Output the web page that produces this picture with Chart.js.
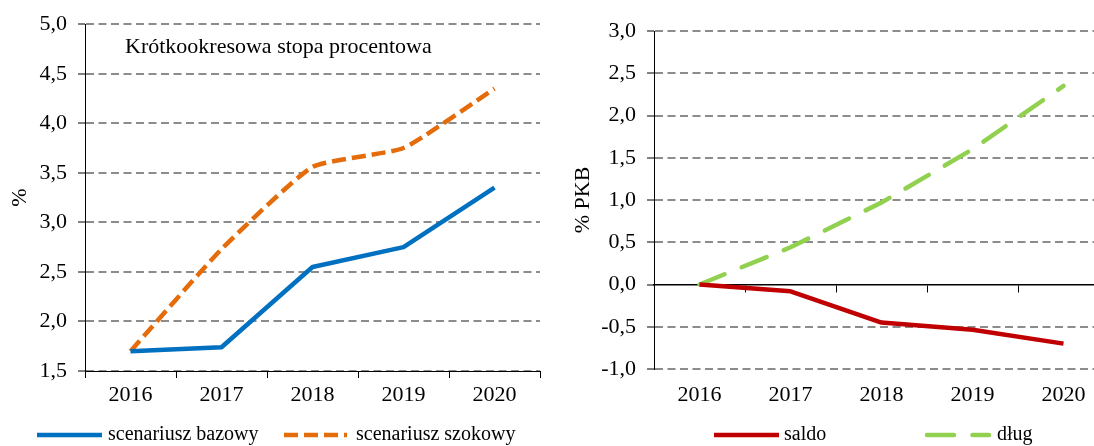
<!DOCTYPE html>
<html><head><meta charset="utf-8">
<script src="https://cdn.jsdelivr.net/npm/chart.js@4.4.1/dist/chart.umd.min.js"></script>
<style>
html,body{margin:0;padding:0;background:#fff;overflow:hidden;width:1094px;height:446px;position:relative}
#c1{position:absolute;left:0;top:0}
#c2{position:absolute;left:547px;top:0}
</style></head><body>
<canvas id="c1" width="547" height="446"></canvas>
<canvas id="c2" width="568" height="446"></canvas>
<script>
// ---- data ----
const years = ['2016', '2017', '2018', '2019', '2020'];
const bazowy = [1.70, 1.74, 2.55, 2.75, 3.35];
const szokowy = [1.70, 2.73, 3.56, 3.75, 4.35];
const saldo = [0.00, -0.08, -0.45, -0.535, -0.70];
const dlug = [0.00, 0.44, 0.97, 1.60, 2.35];
const leftTitle = 'Krótkookresowa stopa procentowa';
const leftYTitle = '%';
const rightYTitle = '% PKB';

const FONT = "'Liberation Serif', 'Times New Roman', serif";
Chart.defaults.font.family = FONT;
Chart.defaults.font.size = 22;
Chart.defaults.color = '#000';

const fmt = v => v.toFixed(1).replace('.', ',');
const GRID = '#8c8c8c';

const lineLegend = {
  id: 'lineLegend',
  afterDraw(chart, args, opts) {
    const ctx = chart.ctx;
    ctx.save();
    opts.items.forEach((it, i) => {
      const ds = chart.data.datasets[i];
      ctx.beginPath();
      ctx.strokeStyle = ds.borderColor;
      ctx.lineWidth = ds.borderWidth;
      ctx.setLineDash(ds.borderDash || []);
      ctx.lineCap = ds.borderCapStyle || 'butt';
      ctx.moveTo(it.x0, opts.y);
      ctx.lineTo(it.x1, opts.y);
      ctx.stroke();
      ctx.setLineDash([]);
      ctx.fillStyle = '#000';
      ctx.font = opts.fontSize + 'px ' + FONT;
      ctx.textBaseline = 'middle';
      ctx.textAlign = 'left';
      ctx.fillText(ds.label, it.tx, opts.y);
    });
    ctx.restore();
  }
};

const innerTitle = {
  id: 'innerTitle',
  afterDraw(chart, args, opts) {
    if (!opts.text) return;
    const ctx = chart.ctx;
    ctx.save();
    ctx.fillStyle = '#000';
    ctx.font = opts.fontSize + 'px ' + FONT;
    ctx.textBaseline = 'alphabetic';
    ctx.textAlign = 'left';
    ctx.fillText(opts.text, chart.chartArea.left + opts.dx, chart.chartArea.top + opts.dy);
    ctx.restore();
  }
};

new Chart(document.getElementById('c1'), {
  type: 'line',
  data: {
    labels: years,
    datasets: [
      { label: 'scenariusz bazowy', data: bazowy, borderColor: '#0070c0', borderWidth: 4.5,
        tension: 0, pointRadius: 0, borderJoinStyle: 'round', borderCapStyle: 'butt' },
      { label: 'scenariusz szokowy', data: szokowy, borderColor: '#e46c0a', borderWidth: 4.5,
        borderDash: [14, 6], tension: 0.15, pointRadius: 0, borderCapStyle: 'butt' }
    ]
  },
  options: {
    responsive: false, animation: false, devicePixelRatio: 1,
    layout: { padding: { left: 0, right: 7, top: 21, bottom: 33.6 } },
    plugins: {
      legend: { display: false }, tooltip: { enabled: false },
      lineLegend: { y: 435, fontSize: 20, items: [ { x0: 37, x1: 102, tx: 108 }, { x0: 284, x1: 347, tx: 356 } ] },
      innerTitle: { text: leftTitle, fontSize: 22, dx: 40, dy: 29 }
    },
    scales: {
      x: {
        offset: true,
        grid: { offset: true, drawOnChartArea: false, drawTicks: true, tickLength: 7, color: '#000', tickColor: '#000', lineWidth: 1 },
        border: { display: true, color: '#000', width: 1 },
        ticks: { padding: 4, maxRotation: 0, autoSkip: false, color: '#000' }
      },
      y: {
        min: 1.5, max: 5,
        ticks: { stepSize: 0.5, padding: 11, callback: v => fmt(v), color: '#000' },
        grid: { color: GRID, lineWidth: 2, tickLength: 7, tickColor: '#000', tickWidth: 1 },
        border: { display: true, color: '#000', width: 1, dash: [8, 4.5] },
        title: { display: true, text: leftYTitle, color: '#000', padding: { top: 6.8, bottom: -4.7 } }
      }
    }
  },
  plugins: [lineLegend, innerTitle]
});

new Chart(document.getElementById('c2'), {
  type: 'line',
  data: {
    labels: years,
    datasets: [
      { label: 'saldo', data: saldo, borderColor: '#c00000', borderWidth: 4.5,
        tension: 0, pointRadius: 0, borderJoinStyle: 'round', borderCapStyle: 'butt', xAxisID: 'x' },
      { label: 'dług', data: dlug, borderColor: '#92d050', borderWidth: 4.5,
        borderDash: [27, 18.5], borderCapStyle: 'round', tension: 0, pointRadius: 0, xAxisID: 'x' }
    ]
  },
  options: {
    responsive: false, animation: false, devicePixelRatio: 1,
    layout: { padding: { left: 18, right: 6, top: 31, bottom: 24.6 } },
    plugins: {
      legend: { display: false }, tooltip: { enabled: false },
      lineLegend: { y: 435, fontSize: 20, items: [ { x0: 167, x1: 232, tx: 237 }, { x0: 380, x1: 442, tx: 450 } ] },
      innerTitle: { text: '' }
    },
    scales: {
      x: {
        type: 'category', position: { y: 0 }, offset: true,
        grid: { offset: true, drawOnChartArea: false, drawTicks: true, tickLength: 7, color: '#000', tickColor: '#000', lineWidth: 1 },
        border: { display: true, color: '#000', width: 1.5 },
        ticks: { display: false }
      },
      x2: {
        type: 'category', position: 'bottom', offset: true,
        grid: { display: false, drawTicks: false },
        border: { display: false },
        ticks: { padding: 13, maxRotation: 0, autoSkip: false, color: '#000' }
      },
      y: {
        min: -1, max: 3,
        ticks: { stepSize: 0.5, padding: 11, callback: v => fmt(v), color: '#000' },
        grid: { color: c => (c.tick && Math.abs(c.tick.value) < 1e-9) ? 'rgba(0,0,0,0)' : GRID,
                lineWidth: 2, tickLength: 7, tickColor: '#000', tickWidth: 1 },
        border: { display: true, color: '#000', width: 1, dash: [8, 4.5] },
        title: { display: true, text: rightYTitle, color: '#000', padding: { top: 4.8, bottom: -6 } }
      }
    }
  },
  plugins: [lineLegend, innerTitle]
});
</script>
</body></html>
